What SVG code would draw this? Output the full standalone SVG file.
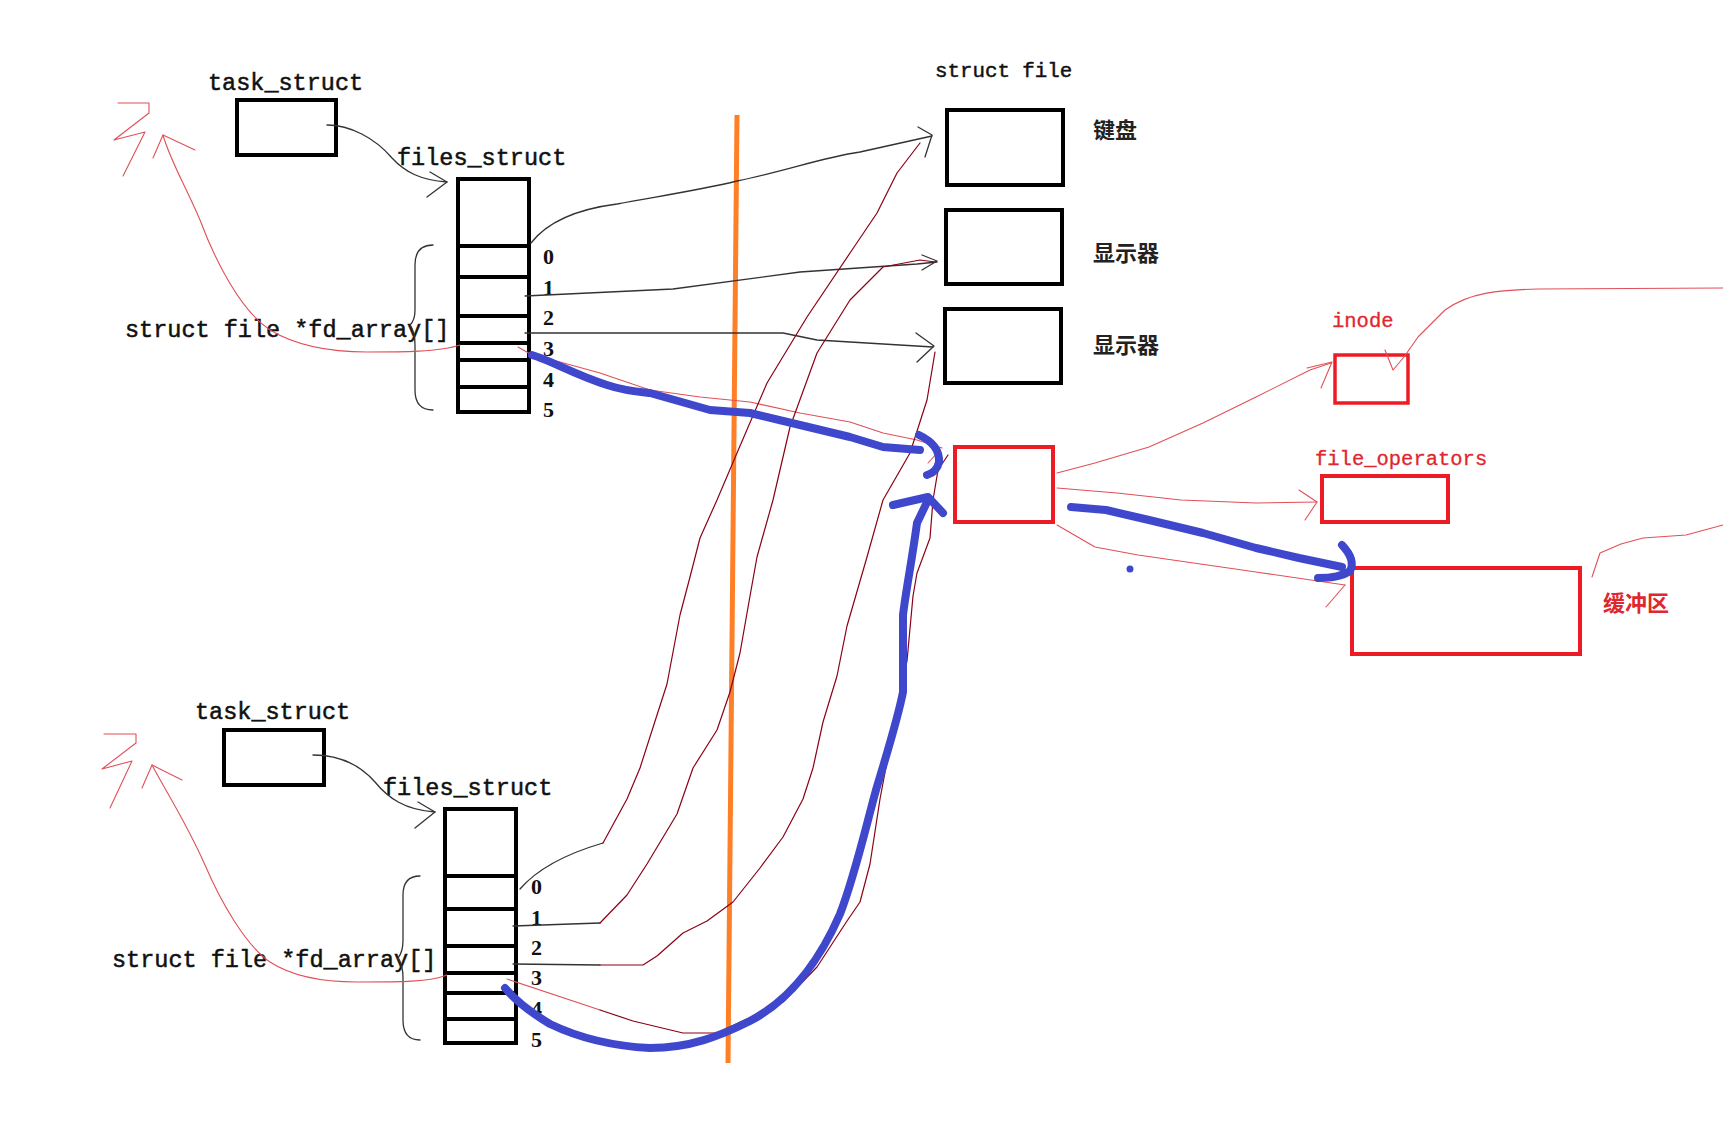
<svg xmlns="http://www.w3.org/2000/svg" width="1723" height="1138" viewBox="0 0 1723 1138">
<defs>
<style>
.lbl{font-family:"Liberation Mono","DejaVu Sans Mono",monospace;font-size:23.5px;fill:#111;stroke:#111;stroke-width:0.5}
.num{font-family:"Liberation Serif","DejaVu Serif",serif;font-size:22px;font-weight:bold;fill:#111}
.sf{font-family:"Liberation Mono","DejaVu Sans Mono",monospace;font-size:20.8px;fill:#111;stroke:#111;stroke-width:0.45}
.cjk{font-family:"Noto Sans CJK SC",sans-serif;font-size:22px;font-weight:bold;fill:#222}
.rt{font-family:"Liberation Mono","DejaVu Sans Mono",monospace;font-size:20.5px;fill:#e0262e;stroke:#e0262e;stroke-width:0.3}
.rcjk{font-family:"Noto Sans CJK SC",sans-serif;font-size:22px;font-weight:bold;fill:#e0262e}
.box{fill:#fff;stroke:#000;stroke-width:4}
.rbox{fill:#fff;stroke:#ed1c24;stroke-width:4}
.div{stroke:#000;stroke-width:4}
.blk{fill:none;stroke:#333;stroke-width:1.3;stroke-linejoin:round;stroke-linecap:round}
.lr{fill:none;stroke:#e05058;stroke-width:1.1;stroke-linejoin:round;stroke-linecap:round}
.dr{fill:none;stroke:#8b0015;stroke-width:1.2;stroke-linejoin:round;stroke-linecap:round}
.blue{fill:none;stroke:#3f48cc;stroke-width:8;stroke-linejoin:round;stroke-linecap:round}
.org{fill:none;stroke:#ff7f27;stroke-width:5}
</style>
</defs>
<rect width="1723" height="1138" fill="#fff"/>

<!-- top process -->
<g id="task1">
<text class="lbl" x="208" y="90">task_struct</text>
<rect class="box" x="237" y="100" width="99" height="55"/>
</g>
<g id="files1">
<text class="lbl" x="397" y="165">files_struct</text>
<rect class="box" x="458" y="179" width="71" height="233"/>
<path class="div" d="M458,246H529M458,277H529M458,316H529M458,343H529M458,360H529M458,387H529"/>
<text class="num" x="543" y="264">0</text>
<text class="num" x="543" y="295">1</text>
<text class="num" x="543" y="325">2</text>
<text class="num" x="543" y="356">3</text>
<text class="num" x="543" y="387">4</text>
<text class="num" x="543" y="417">5</text>
</g>
<g id="fdarray1">
<text class="lbl" x="125" y="337">struct file *fd_array[]</text>
<path class="blk" d="M433,245 Q415,245 415,265 L415,310 Q415,320 410,325 Q415,332 415,345 L415,390 Q415,410 433,410"/>
</g>

<!-- bottom process -->
<g id="task2">
<text class="lbl" x="195" y="719">task_struct</text>
<rect class="box" x="224" y="730" width="100" height="55"/>
</g>
<g id="files2">
<text class="lbl" x="383" y="795">files_struct</text>
<rect class="box" x="445" y="809" width="71" height="234"/>
<path class="div" d="M445,876H516M445,909H516M445,946H516M445,973H516M445,993H516M445,1019H516"/>
<text class="num" x="531" y="894">0</text>
<text class="num" x="531" y="925">1</text>
<text class="num" x="531" y="955">2</text>
<text class="num" x="531" y="985">3</text>
<text class="num" x="531" y="1016">4</text>
<text class="num" x="531" y="1047">5</text>
</g>
<g id="fdarray2">
<text class="lbl" x="112" y="967">struct file *fd_array[]</text>
<path class="blk" d="M420,876 Q403,876 403,895 L403,940 Q403,952 398,958 Q403,965 403,978 L403,1020 Q403,1040 420,1040"/>
</g>

<!-- struct file column -->
<g id="structfile">
<text class="sf" x="935" y="77">struct file</text>
</g>
<g id="keyboard">
<rect class="box" x="947" y="110" width="116" height="75"/>
<text class="cjk" x="1093" y="138">键盘</text>
</g>
<g id="display1">
<rect class="box" x="946" y="210" width="116" height="74"/>
<text class="cjk" x="1093" y="261">显示器</text>
</g>
<g id="display2">
<rect class="box" x="945" y="309" width="116" height="74"/>
<text class="cjk" x="1093" y="353">显示器</text>
</g>
<g id="file">
<rect class="rbox" x="955" y="447" width="98" height="75"/>
</g>
<g id="inode">
<text class="rt" x="1332" y="327">inode</text>
<rect class="rbox" x="1335" y="355" width="73" height="48" style="stroke-width:3.5"/>
</g>
<g id="fileops">
<text class="rt" x="1315" y="465">file_operators</text>
<rect class="rbox" x="1322" y="476" width="126" height="46"/>
</g>
<g id="buffer">
<rect class="rbox" x="1352" y="568" width="228" height="86"/>
<text class="rcjk" x="1603" y="611">缓冲区</text>
</g>

<g id="connectors">
<!-- orange divider -->
<path class="org" d="M737,115 L728,1063"/>

<!-- top black -->
<path class="blk" d="M327,125 C350,125 375,138 392,158 C405,172 420,180 447,182"/>
<path class="blk" d="M430,172 L447,182 L427,197"/>
<path class="blk" d="M531,243 Q555,212 617,204 C660,196 700,190 737,181 C790,170 820,158 860,152 L932,136"/>
<path class="blk" d="M918,127 L932,135 L925,157"/>
<path class="blk" d="M525,296 L673,289 L800,272 L917,264 L937,262"/>
<path class="blk" d="M922,255 L937,261 L922,270"/>
<path class="blk" d="M525,333 L783,333 L817,340 L933,347"/>
<path class="blk" d="M916,333 L934,346 L917,362"/>

<!-- bottom black -->
<path class="blk" d="M313,755 C340,755 360,765 375,782 C388,798 405,810 435,812"/>
<path class="blk" d="M418,802 L435,812 L415,828"/>
<path class="blk" d="M520,889 Q545,860 603,843"/>
<path class="blk" d="M513,926 L600,923"/>
<path class="blk" d="M513,964 L600,965"/>

<!-- red fd_array back arrows -->
<path class="lr" d="M460,345 C440,352 400,352 367,352 C320,352 290,342 270,330 C240,310 215,260 200,220 C185,185 170,160 163,135"/>
<path class="lr" d="M153,158 L163,135 L195,150"/>
<path class="lr" d="M118,103 L149,103 L149,113 L114,140 L145,132 L123,176"/>
<path class="lr" d="M447,975 C430,982 400,982 357,982 C320,982 290,975 270,962 C245,945 220,900 205,865 C185,820 165,790 152,765"/>
<path class="lr" d="M142,788 L152,765 L182,780"/>
<path class="lr" d="M104,734 L136,734 L136,743 L102,769 L132,761 L110,808"/>

<!-- top fd3 red thin -->
<path class="lr" d="M518,347 L532,355 L560,362 L600,373 L650,390 L700,397 L750,402 L800,413 L850,422 L883,433 L917,440 L942,448"/>
<path class="lr" d="M928,463 L940,450"/>

<!-- bottom process dark red -->
<path class="dr" d="M603,843 L627,799 L640,768 L657,715 L667,684 L680,615 L690,577 L700,538 L717,500 L737,453 L767,383 L807,317 L850,253 L877,213 L897,173 L920,143"/>
<path class="dr" d="M600,923 L627,895 L647,864 L677,814 L693,768 L717,730 L730,692 L740,653 L750,596 L757,557 L773,500 L790,427 L817,353 L850,300 L883,267 L920,260 L935,262"/>
<path class="dr" d="M600,965 L643,965 L657,956 L683,933 L707,921 L733,902 L760,868 L783,837 L803,799 L813,768 L823,722 L837,676 L847,626 L867,557 L883,500 L910,453 L927,400 L935,352"/>
<path class="lr" d="M507,979 L600,1010"/>
<path class="dr" d="M600,1010 L633,1021 L683,1033 L717,1033 L783,1002 L817,967 L847,921 L860,902 L870,864 L880,799 L893,730 L907,661 L913,596 L917,573 L930,538 L933,500 L938,470 L948,455"/>

<!-- red box outgoing -->
<path class="lr" d="M1057,473 L1095,463 L1149,447 L1203,423 L1256,397 L1310,370 L1331,363"/>
<path class="lr" d="M1307,368 L1332,362 L1321,388"/>
<path class="lr" d="M1057,488 L1117,493 L1181,500 L1256,503 L1317,502"/>
<path class="lr" d="M1299,490 L1317,502 L1305,520"/>
<path class="lr" d="M1057,525 L1095,547 L1138,555 L1256,572 L1345,585"/>
<path class="lr" d="M1326,607 L1345,585"/>
<path class="lr" d="M1385,350 L1393,370 L1404,357 L1418,337 L1445,310 C1470,292 1500,290 1538,289 L1723,288"/>
<path class="lr" d="M1592,577 L1600,553 L1621,544 L1643,538 L1686,535 L1723,525"/>

<!-- blue -->
<path class="blue" d="M532,355 C550,360 575,375 607,385 C625,391 640,392 650,393 L710,410 L750,413 L800,425 L850,437 L883,447 L920,450"/>
<path class="blue" d="M919,435 Q940,445 939,462 Q937,472 927,475"/>
<path class="blue" d="M505,988 C515,1000 530,1012 550,1024 C575,1036 610,1046 650,1048 C690,1048 720,1036 750,1021 C790,1000 820,960 840,914 C855,875 865,830 876,790 C888,750 898,718 903,692 L903,615 C906,590 912,560 917,523 L928,500"/>
<path class="blue" d="M893,505 L928,497 L943,513"/>
<path class="blue" d="M1071,507 L1106,510 L1149,520 L1203,533 L1256,548 L1299,558 L1342,567"/>
<path class="blue" d="M1342,545 Q1356,560 1350,571 Q1340,578 1318,578"/>
<circle cx="1130" cy="569" r="3.5" fill="#3f48cc"/>
</g>
</svg>
